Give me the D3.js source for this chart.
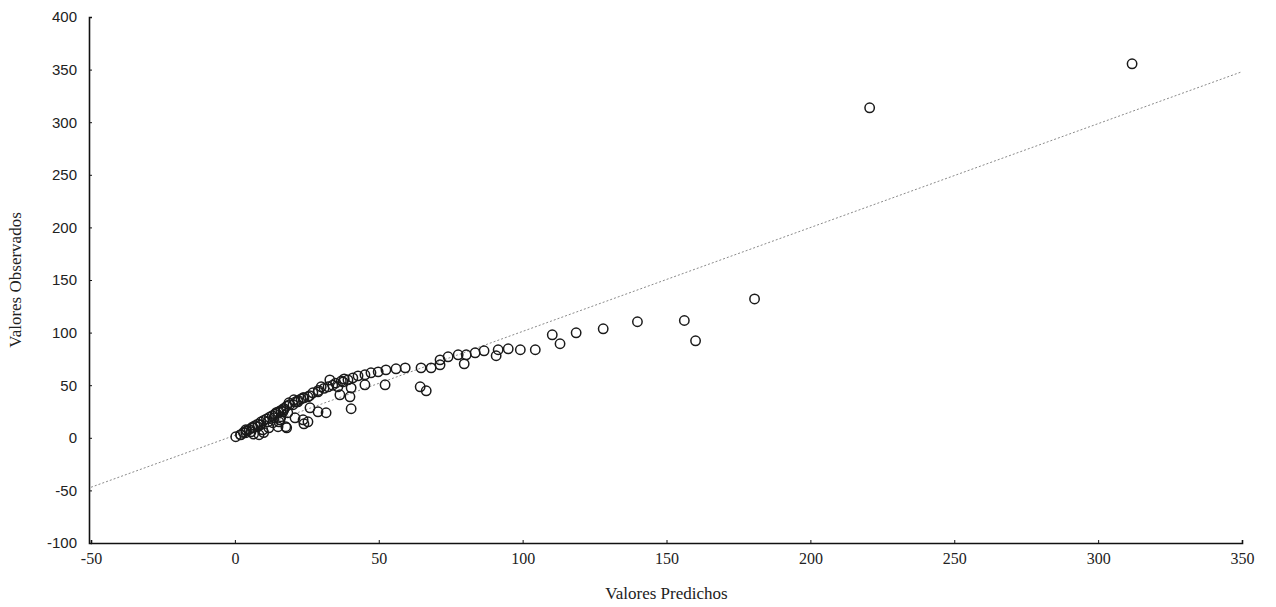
<!DOCTYPE html>
<html>
<head>
<meta charset="utf-8">
<script src="https://cdn.jsdelivr.net/npm/d3@7"></script>
<style>
    body { margin: 0; background: #fff; }
    #graph svg { display: block; }
</style>
</head>
<body>
<div id="graph"></div>
<script>
// tick labels
const xTicks = [-50, 0, 50, 100, 150, 200, 250, 300, 350];
const yTicks = [-100, -50, 0, 50, 100, 150, 200, 250, 300, 350, 400];

// predicted values (x) and observed values (y)
const predichos = [
    311.8, 220.6, 180.6, 156.2, 160.1, 139.9, 128, 118.6, 110.3, 113,
    104.4, 99.2, 95, 91.5, 90.8, 86.6, 83.5, 80.4, 79.7, 77.6,
    74.1, 71.3, 71.3, 68.2, 64.7, 64.4, 66.5, 59.2, 56, 52.5,
    49.8, 47.3, 45.2, 42.8, 41, 39.3, 37.6, 35.8, 32.4, 33,
    30, 28.9, 36.5, 40, 27.1, 25.4, 23.7, 21.9, 20.2, 26.1,
    28.9, 31.7, 40.4, 45.2, 52.2, 40.4, 16.7, 18.4, 20.9, 23.7,
    25.4, 15.7, 24, 18, 0.3, 2, 3.8, 5.6, 8.4, 9.7,
    11.8, 15, 17.7, 9, 11.5, 13.6, 16, 14.3, 17, 18.8,
    20.5, 6.3, 3.8, 8, 13.2, 15.3, 6.5, 10, 2, 3,
    4, 5, 6, 7, 8, 9, 10, 11, 12, 13,
    14, 15, 16, 17, 18, 19, 21, 22, 23, 24,
    26, 29, 31, 34, 35, 37, 38
];
const observados = [
    355.5, 313.7, 132, 111.5, 92.2, 110.3, 103.6, 99.8, 97.9, 89.4,
    83.7, 83.7, 84.6, 83.7, 78, 82.7, 80.8, 78.9, 70.3, 78.9,
    77, 74.1, 69.4, 66.5, 66.5, 48.5, 44.7, 66.5, 65.6, 64.6,
    62.7, 61.8, 59.9, 58.9, 57, 55.1, 53.2, 48.5, 48.5, 55,
    48.5, 43.7, 40.9, 39, 42.8, 39, 38, 34.2, 31.4, 28.5,
    24.7, 23.8, 27.6, 50.4, 50.4, 47.5, 24.7, 23.8, 19, 17.1,
    15.2, 17.1, 13.3, 9.5, 1, 2.8, 4.8, 5.7, 2.9, 7.6,
    9.5, 10.5, 10.5, 12.4, 15.2, 19, 20, 23.8, 26.6, 33.3,
    36.1, 9.5, 7.6, 10.5, 14.3, 15.2, 3.5, 5, 3, 5,
    6.5, 8, 10, 11.5, 13, 15, 16.5, 18, 19.5, 21,
    22.5, 24.5, 26, 28, 30, 31.5, 34, 35.5, 37, 38,
    40, 45, 47, 50, 52, 54, 56
];

// fitted line, end points
const ajusteX = [-50, 350];
const ajusteY = [-47, 348];

const width = 1276, height = 607;
const margin = {top: 17, right: 34, bottom: 64, left: 91};

const svg = d3.select("#graph")
    .append("svg")
    .attr("width", width)
    .attr("height", height);

const x = d3.scaleLinear()
    .domain([-50, 350])
    .range([margin.left, width - margin.right]);

const y = d3.scaleLinear()
    .domain([-100, 400])
    .range([height - margin.bottom, margin.top]);

// plain hyphen for negatives, like the original
const fmt = function(d) { return String(d); };

// fitted line (dotted, grey)
svg.append("path")
    .datum(d3.zip(ajusteX, ajusteY))
    .attr("fill", "none")
    .attr("stroke", "#8a8a8a")
    .attr("stroke-width", 1)
    .attr("stroke-dasharray", "2,2")
    .attr("d", d3.line()
        .x(function(d) { return x(d[0]); })
        .y(function(d) { return y(d[1]); })
    );

// points
svg.append("g")
    .selectAll("circle")
    .data(d3.zip(predichos, observados))
    .join("circle")
    .attr("cx", function(d) { return x(d[0]); })
    .attr("cy", function(d) { return y(d[1]); })
    .attr("r", 4.7)
    .attr("fill", "none")
    .attr("stroke", "#1a1a1a")
    .attr("stroke-width", 1.5);

// x axis
const xAxis = svg.append("g")
    .attr("transform", "translate(0," + (height - margin.bottom) + ")")
    .call(d3.axisBottom(x).tickValues(xTicks).tickFormat(fmt).tickSize(-3).tickPadding(10));

xAxis.select(".domain").attr("stroke", "#111").attr("stroke-width", 1.6);
xAxis.selectAll("line").attr("stroke", "#111");
xAxis.selectAll("text")
    .attr("font-family", "Liberation Serif")
    .attr("font-size", 16)
    .attr("fill", "#222");

// y axis
const yAxis = svg.append("g")
    .attr("transform", "translate(" + (margin.left - 2) + ",0)")
    .call(d3.axisLeft(y).tickValues(yTicks).tickFormat(fmt).tickSize(-3).tickPadding(12));

yAxis.select(".domain").attr("stroke", "#111").attr("stroke-width", 1.6);
yAxis.selectAll("line").attr("stroke", "#111");
yAxis.selectAll("text")
    .attr("font-family", "Liberation Sans")
    .attr("font-size", 15)
    .attr("fill", "#222");

// axis titles
svg.append("text")
    .attr("x", (margin.left + width - margin.right) / 2)
    .attr("y", 599)
    .attr("text-anchor", "middle")
    .attr("font-family", "Liberation Serif")
    .attr("font-size", 17)
    .attr("fill", "#222")
    .text("Valores Predichos");

svg.append("text")
    .attr("transform", "translate(21," + ((margin.top + height - margin.bottom) / 2) + ") rotate(-90)")
    .attr("text-anchor", "middle")
    .attr("font-family", "Liberation Serif")
    .attr("font-size", 17)
    .attr("fill", "#222")
    .text("Valores Observados");
</script>
</body>
</html>
